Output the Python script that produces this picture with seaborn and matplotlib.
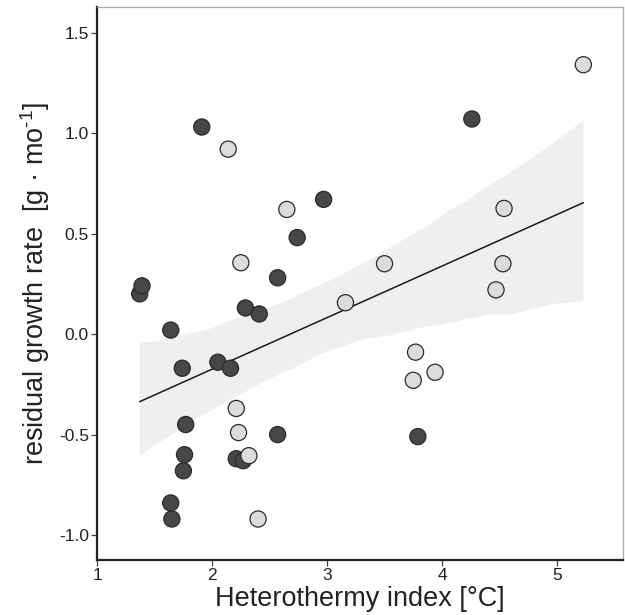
import numpy as np
import pandas as pd
import matplotlib
matplotlib.use("Agg")
import matplotlib.pyplot as plt
import seaborn as sns
from matplotlib.collections import PolyCollection

# Dark group: heterothermy index and residual growth rate
dark_x = [1.37, 1.39, 1.91, 4.26, 2.97, 2.74, 2.57, 2.29, 2.41, 1.64, 2.05,
          2.16, 1.74, 1.77, 2.57, 3.79, 1.76, 2.21, 2.27, 1.75, 1.64, 1.65]
dark_y = [0.20, 0.24, 1.03, 1.07, 0.67, 0.48, 0.28, 0.13, 0.10, 0.02, -0.14,
          -0.17, -0.17, -0.45, -0.50, -0.51, -0.60, -0.62, -0.63, -0.68, -0.84, -0.92]

# Light group
light_x = [5.23, 2.14, 2.65, 4.54, 2.25, 3.50, 4.53, 4.47, 3.16, 3.77, 3.94,
           3.75, 2.21, 2.23, 2.32, 2.40]
light_y = [1.34, 0.92, 0.62, 0.625, 0.355, 0.35, 0.35, 0.22, 0.156, -0.09, -0.19,
           -0.23, -0.37, -0.49, -0.605, -0.92]

x_ticks = [1, 2, 3, 4, 5]
y_ticks = [-1.0, -0.5, 0.0, 0.5, 1.0, 1.5]

df = pd.DataFrame({
    "hi": dark_x + light_x,
    "rgr": dark_y + light_y,
    "group": ["dark"] * len(dark_x) + ["light"] * len(light_x),
})

sns.set_theme(style="white")
plt.rcParams["font.family"] = ["Liberation Sans", "DejaVu Sans"]
plt.rcParams["mathtext.fontset"] = "custom"
plt.rcParams["mathtext.rm"] = "Liberation Sans"

fig = plt.figure(figsize=(6.25, 6.15), dpi=100)
ax = fig.add_axes([0.1555, 0.0894, 0.8413, 0.8992])

# Regression line and 95% confidence band over all points
sns.regplot(data=df, x="hi", y="rgr", scatter=False, ci=95, ax=ax,
            color="black", line_kws={"linewidth": 1.1, "color": "#1a1a1a"})
for coll in ax.collections:
    if isinstance(coll, PolyCollection):
        coll.set_facecolor("#efefef")
        coll.set_alpha(1.0)
        coll.set_edgecolor("none")

sns.scatterplot(data=df, x="hi", y="rgr", hue="group",
                palette={"dark": "#474747", "light": "#dcdcdc"},
                s=135, edgecolor="#2a2a2a", linewidth=0.9, legend=False,
                ax=ax, zorder=3)

ax.set_xlim(1, 5.575)
ax.set_ylim(-1.124, 1.627)
ax.set_xticks(x_ticks)
ax.set_xticklabels([str(v) for v in x_ticks])
ax.set_yticks(y_ticks)
ax.set_yticklabels([f"{v:.1f}" for v in y_ticks])

ax.tick_params(axis="both", which="major", direction="out", length=4,
               width=0.9, color="#444444", labelsize=12.5, labelcolor="#222222",
               left=True, bottom=True, pad=2)

for side in ["left", "bottom"]:
    ax.spines[side].set_color("#222222")
    ax.spines[side].set_linewidth(1.6)
for side in ["top", "right"]:
    ax.spines[side].set_color("#aaaaaa")
    ax.spines[side].set_linewidth(0.9)

ax.set_xlabel("Heterothermy index [°C]", fontsize=19.5, color="#222222", labelpad=2)
ax.set_ylabel(r"residual growth rate  [g · mo$^{\mathrm{\text{-}1}}$]", fontsize=19.5,
              color="#222222", labelpad=5)

fig.savefig("out.png", dpi=100)
